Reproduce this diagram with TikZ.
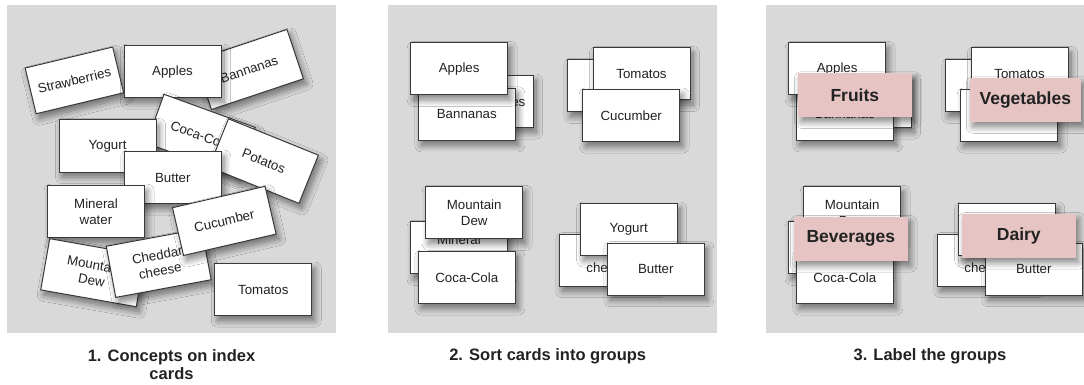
\documentclass[tikz,border=0pt]{standalone}
\usepackage{fontspec}
\setmainfont{Liberation Sans}
\usetikzlibrary{shadows.blur}

\definecolor{panelbg}{HTML}{D9D9D9}
\definecolor{cardline}{HTML}{3A3A3A}
\definecolor{inktext}{HTML}{222222}
\definecolor{labelfill}{HTML}{E6C4C4}

\tikzset{
  soft shadow/.style={blur shadow={shadow xshift=3pt, shadow yshift=-5pt,
      shadow blur radius=6.5pt, shadow blur steps=10, shadow opacity=50}},
  card/.style={draw=cardline, line width=1pt, fill=white,
      minimum width=97pt, minimum height=52pt, inner sep=0pt,
      align=center, text=inktext,
      font=\fontsize{13.3}{16}\selectfont, soft shadow},
  grouplabel/.style={fill=labelfill, minimum width=113.5pt,
      minimum height=43.5pt, inner sep=0pt, text=inktext,
      font=\bfseries\fontsize{17.5}{20}\selectfont, soft shadow},
  caption/.style={align=center, text=inktext,
      font=\bfseries\fontsize{16.5}{18}\selectfont},
  panel/.style={fill=panelbg, draw=none}
}

% the twelve cards laid out in four piles; #1 suffixes the node names
\newcommand\sortedcards[1]{%
  \node[card] (s#1) at (484.5,101.5) {\hspace*{7pt}Strawberries};
  \node[card] (b#1) at (466.8,114.3) {Bannanas};
  \node[card] (a#1) at (459.2,69)    {Apples};
  \node[card] (p#1) at (615.8,85.8)  {};
  \node[card] (t#1) at (641.5,74)    {Tomatos};
  \node[card] (k#1) at (631.2,115.5) {Cucumber};
  \node[card] (m#1) at (459,247.8)   {Mineral\\water};
  \node[card] (d#1) at (474.2,212.8) {Mountain\\Dew};
  \node[card] (c#1) at (466.8,277.5) {Coca-Cola};
  \node[card] (h#1) at (607.8,260.2) {Cheddar\\cheese};
  \node[card] (y#1) at (628.7,229.5) {Yogurt};
  \node[card] (u#1) at (655.8,269.2) {Butter};
}

\begin{document}
\begin{tikzpicture}[x=1pt, y=-1pt]
\useasboundingbox (0,0) rectangle (1084,385);

% backgrounds of the three steps
\fill[panel] (7,5) rectangle (336,333);
\fill[panel] (388,5) rectangle (717,333);
\fill[panel] (766,5) rectangle (1084,333);

% step 1: scattered cards
\node[card, minimum width=90pt, minimum height=47pt, rotate=13.5] (s1) at (74.4,80.4) {Strawberries};
\node[card, rotate=18.5] (b1) at (249.2,69.5) {Bannanas};
\node[card] (a1) at (172.5,71.7) {Apples};
\node[card, rotate=-20] (c1) at (200.7,135.3) {Coca-Cola};
\node[card] (y1) at (107.5,146) {Yogurt};
\node[card, rotate=-22] (p1) at (263.7,161.1) {Potatos};
\node[card] (u1) at (172.8,177.7) {Butter};
\node[card] (m1) at (96,211.7) {Mineral\\water};
\node[card, rotate=-10] (d1) at (93,272.7) {Mountain\\Dew};
\node[card, rotate=10.5] (h1) at (158.7,263) {Cheddar\\cheese};
\node[card, minimum width=95pt, minimum height=49pt, rotate=13] (k1) at (224.3,220.9) {Cucumber};
\node[card] (t1) at (263.3,289.7) {Tomatos};

% step 2: cards sorted into piles
\sortedcards{2}

% step 3: the same piles with a label on each
\begin{scope}[xshift=378pt]
  \sortedcards{3}
\end{scope}
\node[grouplabel] (fruits) at (854.8,95) {Fruits};
\node[grouplabel, minimum width=111pt] (vegetables) at (1025.3,100) {Vegetables};
\node[grouplabel] (beverages) at (850.8,238.8) {Beverages};
\node[grouplabel] (dairy) at (1018.8,235.8) {Dairy};

% captions
\node[caption] (cap1) at (171.5,365) {1. Concepts on index\\cards};
\node[caption] (cap2) at (547.7,356) {2. Sort cards into groups};
\node[caption] (cap3) at (930,356) {3. Label the groups};
\end{tikzpicture}
\end{document}
